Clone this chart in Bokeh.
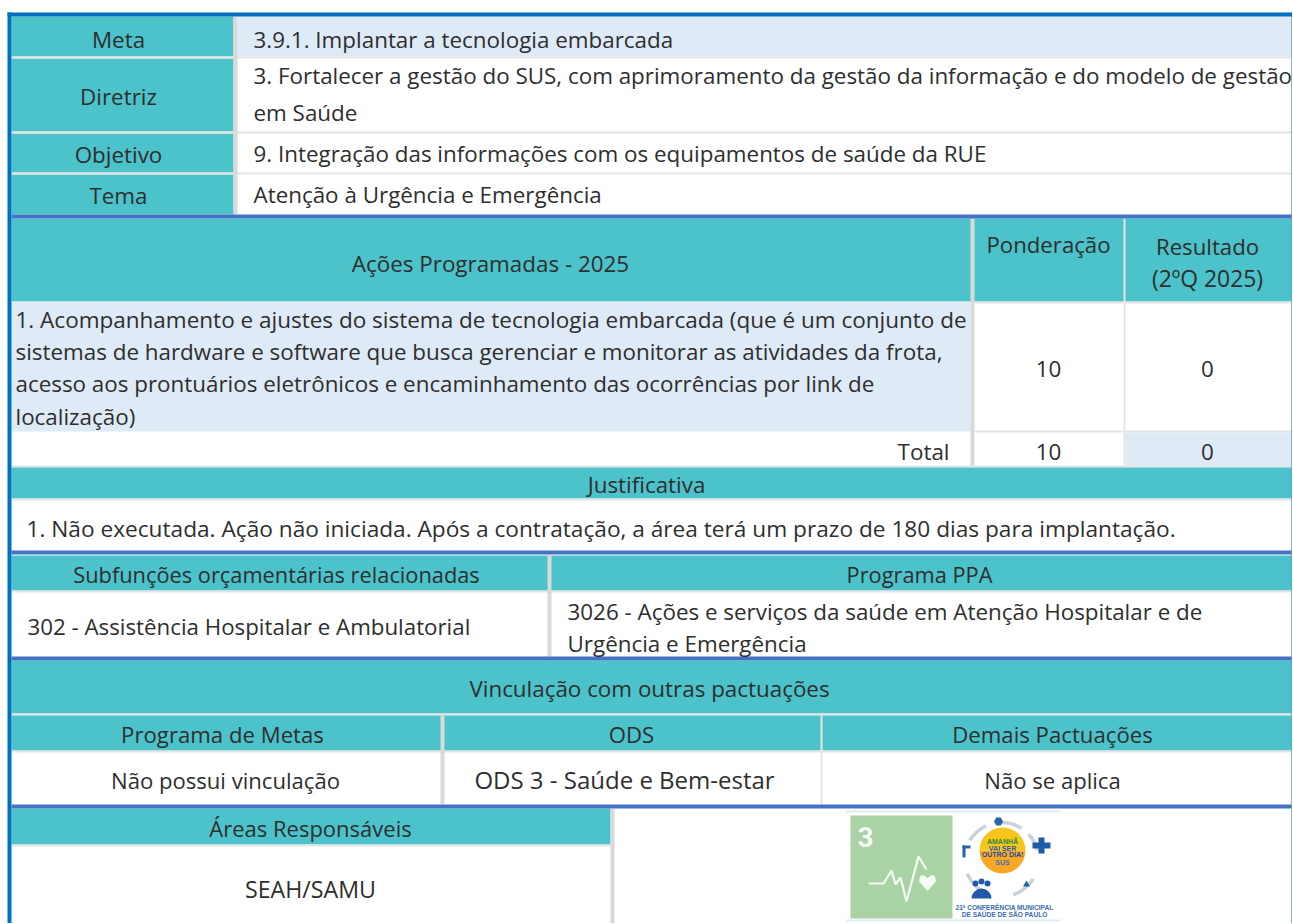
from bokeh.plotting import figure
from bokeh.models import ColumnDataSource
from bokeh.core.properties import value
from bokeh.embed import file_html
from bokeh.resources import INLINE

# ---- content ----
row_labels = ["Meta", "Diretriz", "Objetivo", "Tema"]
meta_text = "3.9.1. Implantar a tecnologia embarcada"
diretriz_lines = ["3. Fortalecer a gestão do SUS, com aprimoramento da gestão da informação e do modelo de gestão", "em Saúde"]
objetivo_text = "9. Integração das informações com os equipamentos de saúde da RUE"
tema_text = "Atenção à Urgência e Emergência"
acoes_header = "Ações Programadas - 2025"
ponderacao_header = "Ponderação"
resultado_header = ["Resultado", "(2ºQ 2025)"]
acao_lines = ["1. Acompanhamento e ajustes do sistema de tecnologia embarcada (que é um conjunto de",
              "sistemas de hardware e software que busca gerenciar e monitorar as atividades da frota,",
              "acesso aos prontuários eletrônicos e encaminhamento das ocorrências por link de",
              "localização)"]
ponderacao_value = "10"
resultado_value = "0"
total_label = "Total"
justificativa_header = "Justificativa"
justificativa_text = "1. Não executada. Ação não iniciada. Após a contratação, a área terá um prazo de 180 dias para implantação."
subfuncoes_header = "Subfunções orçamentárias relacionadas"
subfuncoes_text = "302 - Assistência Hospitalar e Ambulatorial"
ppa_header = "Programa PPA"
ppa_lines = ["3026 - Ações e serviços da saúde em Atenção Hospitalar e de", "Urgência e Emergência"]
vinculacao_header = "Vinculação com outras pactuações"
pact_headers = ["Programa de Metas", "ODS", "Demais Pactuações"]
pact_values = ["Não possui vinculação", "ODS 3 - Saúde e Bem-estar", "Não se aplica"]
areas_header = "Áreas Responsáveis"
areas_text = "SEAH/SAMU"

TEAL, PALE, SEP, VSEP, NAVY, EDGE, WHITE = "#4cc2cb", "#deeaf6", "#e4e4e4", "#d9d9d9", "#4472c4", "#0070c0", "#ffffff"
INK = "#2e2e2e"
FONT = "Open Sans"

p = figure(width=1292, height=923, x_range=(1, 1293), y_range=(924, 1),
           output_backend="svg", toolbar_location=None, min_border=0)
p.axis.visible = False
p.grid.visible = False
p.outline_line_color = None
p.background_fill_color = WHITE

# ---- table cells: left, right, top, bottom, colour ----
cells = [
    (12, 234, 17, 57, TEAL), (238, 1292, 17, 57, PALE),
    (12, 234, 59, 132, TEAL), (12, 234, 134, 173, TEAL), (12, 234, 175, 215, TEAL),
    (234, 1292, 57, 59, SEP), (12, 234, 57, 59, SEP),
    (12, 1292, 132, 134, SEP), (12, 1292, 173, 175, SEP),
    (234, 238, 17, 215, VSEP),
    (12, 1292, 219, 302, TEAL),
    (12, 971, 302, 432, PALE),
    (975, 1292, 302, 304, SEP), (975, 1292, 431, 433, SEP),
    (1126, 1292, 433, 466, PALE),
    (971, 975, 219, 466, VSEP), (1124, 1126, 219, 466, SEP),
    (12, 1292, 466, 468, SEP),
    (12, 1292, 468, 499, TEAL), (12, 1292, 499, 501, SEP),
    (12, 1292, 556, 591, TEAL), (12, 1292, 591, 593, SEP),
    (548, 552, 555, 657, VSEP),
    (12, 1292, 661, 714, TEAL), (12, 1292, 714, 716, SEP),
    (12, 1292, 716, 751, TEAL), (12, 1292, 751, 753, SEP),
    (441, 445, 714, 805, VSEP), (821, 823, 714, 805, SEP),
    (12, 611, 809, 845, TEAL), (12, 611, 845, 847, SEP),
    (611, 615, 809, 924, VSEP),
    # section rules and outer frame
    (12, 1292, 215, 219, NAVY), (12, 1292, 551, 555, NAVY),
    (12, 1292, 657, 661, NAVY), (12, 1292, 805, 809, NAVY),
    (8, 12, 13, 924, EDGE), (8, 1293, 13, 17, EDGE), (1292, 1293, 13, 924, EDGE),
]
p.quad(left=[c[0] for c in cells], right=[c[1] for c in cells],
       top=[c[2] for c in cells], bottom=[c[3] for c in cells],
       fill_color=[c[4] for c in cells], line_color=None)

# ---- texts: string, x, baseline y, anchor, px size ----
S = 22.4
texts = [
    (row_labels[0], 119, 48, "center", S), (row_labels[1], 119, 105, "center", S),
    (row_labels[2], 119, 163, "center", S), (row_labels[3], 119, 204, "center", S),
    (meta_text, 254, 48, "left", S), (diretriz_lines[0], 254, 84, "left", S),
    (diretriz_lines[1], 254, 121, "left", S), (objetivo_text, 254, 162, "left", S),
    (tema_text, 254, 203, "left", S),
    (acoes_header, 491, 272, "center", S), (ponderacao_header, 1049, 253, "center", 22.2),
    (resultado_header[0], 1208, 255, "center", 22.2), (resultado_header[1], 1208, 287, "center", 22.9),
    (acao_lines[0], 16, 328, "left", 22.5), (acao_lines[1], 16, 360, "left", S),
    (acao_lines[2], 16, 392, "left", S), (acao_lines[3], 16, 425, "left", S),
    (ponderacao_value, 1049, 377, "center", S), (resultado_value, 1208, 377, "center", S),
    (total_label, 950, 460, "right", S), (ponderacao_value, 1049, 460, "center", S),
    (resultado_value, 1208, 460, "center", S),
    (justificativa_header, 647, 493, "center", S), (justificativa_text, 27, 537, "left", 22.66),
    (subfuncoes_header, 277, 583, "center", 21.8), (ppa_header, 920, 583, "center", 21.8),
    (subfuncoes_text, 28, 635, "left", 22.3), (ppa_lines[0], 568, 620, "left", S),
    (ppa_lines[1], 568, 652, "left", S),
    (vinculacao_header, 650, 697, "center", S),
    (pact_headers[0], 223, 743, "center", 22.2), (pact_headers[1], 632, 743, "center", 22.2),
    (pact_headers[2], 1053, 743, "center", 22.2),
    (pact_values[0], 226, 788, "center", 22.1), (pact_values[1], 625, 788, "center", 24),
    (pact_values[2], 1053, 788, "center", 22.1),
    (areas_header, 311, 836, "center", 22), (areas_text, 311, 898, "center", 23.2),
]
for anchor in ("left", "center", "right"):
    sub = [t for t in texts if t[3] == anchor]
    src = ColumnDataSource(dict(t=[s[0] for s in sub], x=[s[1] for s in sub],
                                y=[s[2] - 0.35 * s[4] for s in sub],
                                size=[f"{s[4]}px" for s in sub]))
    p.text("x", "y", text="t", source=src, text_font=value(FONT), text_font_size="size",
           text_color=INK, text_align=anchor, text_baseline="middle")

# ---- logo: ODS 3 tile ----
p.quad(left=[846, 846], right=[1061, 1061], top=[811, 920], bottom=[813, 922],
       fill_color="#dfecf0", line_color=None)
p.quad(left=[851], right=[953], top=[816], bottom=[919], fill_color="#a9d2a5", line_color=None)
p.text([866], [837], text=["3"], text_font=value("Roboto"), text_font_size="28px", text_font_style="bold",
       text_color="#f4faf3", text_align="center", text_baseline="middle")
pulse_x = [869, 884, 892, 896, 901, 907, 919, 927]
pulse_y = [884, 884, 871, 885, 878, 902, 857, 870]
p.line(pulse_x, pulse_y, line_color="#f4faf3", line_width=2.2)
heart_x = [928, 920, 921, 924, 928, 932, 935, 936]
heart_y = [891, 882, 877, 876, 879, 876, 877, 882]
p.patch(heart_x, heart_y, fill_color="#f6fbf5", line_color="#f6fbf5")

# ---- logo: conference mark ----
ring_start = [0.25, -1.25, -2.75, 1.0, 2.0]
ring_end = [0.75, -0.55, -1.95, 1.6, 2.6]
p.arc([1002] * 5, [860] * 5, radius=37, start_angle=ring_start, end_angle=ring_end, direction="anticlock",
      line_color="#c9d2d8", line_width=3.5)
p.wedge([1003], [851], radius=23, start_angle=[0], end_angle=[3.1416], direction="clock",
        fill_color="#f9a826", line_color=None)
p.wedge([1003], [851], radius=23, start_angle=[0], end_angle=[3.1416], direction="anticlock",
        fill_color="#f8c51c", line_color=None)
p.text([1003, 1003, 1003, 1003], [842, 849, 855, 863],
       text=["AMANHÃ", "VAI SER", "OUTRO DIA!", "SUS"], text_font=value("Liberation Sans"),
       text_font_size="7px", text_font_style="bold",
       text_color=["#2f8a3a", "#2a5ea8", "#1d4c96", "#3f6fb5"], text_align="center", text_baseline="middle")
p.quad(left=[1033, 1039], right=[1051, 1045], top=[843, 838], bottom=[849, 854],
       fill_color="#1f5aa8", line_color=None)
p.scatter([999], [822], size=9, marker="hex", fill_color="#2a62a8", line_color=None)
p.quad(left=[963, 963], right=[966, 971], top=[846, 846], bottom=[858, 849], fill_color="#2a62a8", line_color=None)
p.scatter([976, 982, 988], [884, 882, 884], size=6, marker="circle", fill_color="#1f5aa8", line_color=None)
p.wedge([982], [899], radius=10, start_angle=[0], end_angle=[3.1416], direction="anticlock",
        fill_color="#1f5aa8", line_color=None)
p.scatter([1027], [885], size=7, marker="triangle", fill_color="#2a62a8", line_color=None)
p.text([1005, 1005], [908, 915], text=["21ª CONFERÊNCIA MUNICIPAL", "DE SAÚDE DE SÃO PAULO"],
       text_font=value("Liberation Sans"), text_font_size="6.6px", text_font_style="bold",
       text_color="#3c6db0", text_align="center", text_baseline="middle")

open("out.html", "w").write(file_html(p, INLINE))
